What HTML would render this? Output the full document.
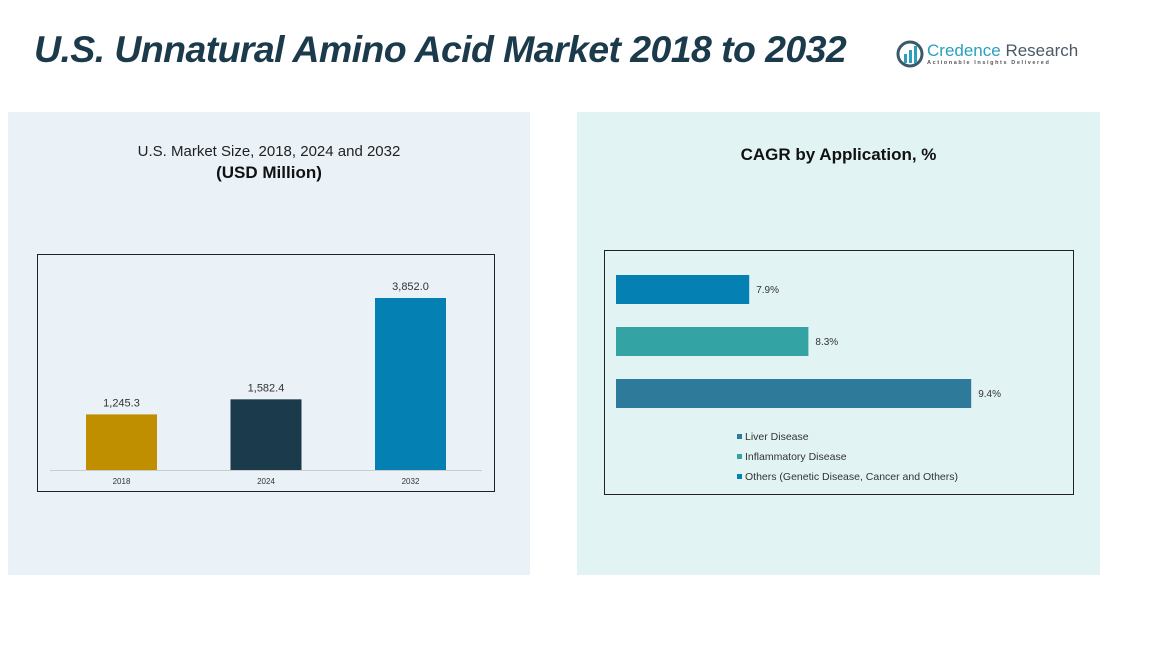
<!DOCTYPE html>
<html><head><meta charset="utf-8"><style>
body{margin:0;width:1150px;height:647px;background:#fff;font-family:"Liberation Sans",sans-serif;position:relative;overflow:hidden}
.abs{position:absolute}
</style></head><body>
<div class="abs" style="left:34px;top:28px;font-size:37.5px;font-weight:bold;font-style:italic;color:#1b3a4b;letter-spacing:-0.6px">U.S. Unnatural Amino Acid Market 2018 to 2032</div>
<div class="abs" style="left:896px;top:40px;width:180px;height:30px">
 <svg width="28" height="28" class="abs" style="left:0;top:0"><circle cx="14" cy="14" r="12" fill="none" stroke="#3a5a6a" stroke-width="3"/><rect x="8" y="14" width="3" height="9" fill="#2a9fc0"/><rect x="13" y="10" width="3" height="13" fill="#2a9fc0"/><rect x="18" y="6" width="3" height="17" fill="#2a9fc0"/></svg>
 <div class="abs" style="left:31px;top:1px;font-size:17px;color:#2a9fc0;white-space:nowrap">Credence <span style="color:#4a5a66">Research</span></div>
 <div class="abs" style="left:31px;top:20px;font-size:5.5px;letter-spacing:1.6px;color:#555;white-space:nowrap;font-weight:bold">Actionable Insights Delivered</div>
</div>
<div class="abs" style="left:8px;top:112px;width:522px;height:463px;background:#eaf2f8"></div>
<div class="abs" style="left:577px;top:112px;width:523px;height:463px;background:#e2f3f4"></div>
<div class="abs" style="left:8px;top:143px;width:522px;text-align:center;font-size:15px;color:#222">U.S. Market Size, 2018, 2024 and 2032</div>
<div class="abs" style="left:8px;top:163px;width:522px;text-align:center;font-size:17px;font-weight:bold;color:#111">(USD Million)</div>
<div class="abs" style="left:577px;top:145px;width:523px;text-align:center;font-size:17px;font-weight:bold;color:#111">CAGR by Application, %</div>
<svg class="abs" style="left:0;top:0" width="1150" height="647" id="svg">
 <rect x="37.5" y="254.5" width="457" height="237" fill="none" stroke="#222" stroke-width="1"/>
 <line x1="50" y1="470.5" x2="482" y2="470.5" stroke="#ccc"/>
 <rect x="604.5" y="250.5" width="469" height="244" fill="none" stroke="#222" stroke-width="1"/>
 <g id="vb"></g><g id="hb"></g>
</svg>
<script>
const years=["2018","2024","2032"];
const sizes=[1245.3,1582.4,3852.0];
const sizeColors=["#bf8f00","#1b3a4b","#0580b3"];
const apps=["Liver Disease","Inflammatory Disease","Others (Genetic Disease, Cancer and Others)"];
const cagr=[7.9,8.3,9.4];
const appColors=["#0580b3","#33a3a3","#2e7a9a"];
const NS="http://www.w3.org/2000/svg";
function mk(t,a,p){const e=document.createElementNS(NS,t);for(const k in a)e.setAttribute(k,a[k]);p.appendChild(e);return e;}
const vy=v=>470-v*(172/3852);
const vb=document.getElementById('vb');
years.forEach((y,i)=>{
 const cx=121.5+i*144.5;
 const r=mk('rect',{x:cx-35.5,y:vy(sizes[i]),width:71,height:470-vy(sizes[i]),fill:sizeColors[i]},vb);
 
 
 const t=mk('text',{x:cx,y:vy(sizes[i])-8,'text-anchor':'middle','font-size':11,fill:'#333','font-family':'Liberation Sans'},vb);
 t.textContent=sizes[i].toLocaleString('en-US',{minimumFractionDigits:1,maximumFractionDigits:1});
 
 
 const l=mk('text',{x:cx,y:484,'text-anchor':'middle','font-size':8,fill:'#333','font-family':'Liberation Sans'},vb);
 l.textContent=y;
 
 
});
const hx=v=>616+(v-7.0)*148;
const hb=document.getElementById('hb');
apps.forEach((a,i)=>{
 const y=275+i*52;
 const r=mk('rect',{x:616,y:y,width:hx(cagr[i])-616,height:29,fill:appColors[i]},hb);
 
 
 const t=mk('text',{x:hx(cagr[i])+7,y:y+18,'font-size':10,fill:'#333','font-family':'Liberation Sans'},hb);
 t.textContent=cagr[i]+'%';
 
 
 const ly=438+i*20;
 const s=mk('rect',{x:737,y:ly-4,width:5,height:5,fill:appColors[2-i]},hb);
 
 
 const lt=mk('text',{x:745,y:ly+2,'font-size':10.5,fill:'#333','font-family':'Liberation Sans'},hb);
 lt.textContent=a;
 
 
});
</script>
</body></html>
